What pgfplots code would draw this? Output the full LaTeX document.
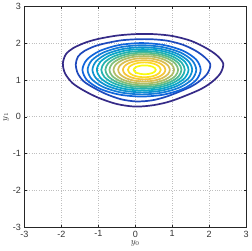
\documentclass[border=0pt]{standalone}
\usepackage{fontspec}
\setmainfont{Liberation Sans}
\usepackage{pgfplots}
\pgfplotsset{compat=1.18}
\definecolor{k1}{RGB}{53,42,135}
\definecolor{k2}{RGB}{30,73,188}
\definecolor{k3}{RGB}{16,101,219}
\definecolor{k4}{RGB}{19,123,215}
\definecolor{k5}{RGB}{14,145,208}
\definecolor{k6}{RGB}{9,165,199}
\definecolor{k7}{RGB}{34,177,176}
\definecolor{k8}{RGB}{73,185,150}
\definecolor{k9}{RGB}{128,190,122}
\definecolor{k10}{RGB}{175,189,103}
\definecolor{k11}{RGB}{216,189,83}
\definecolor{k12}{RGB}{244,197,59}
\definecolor{k13}{RGB}{252,220,36}
\definecolor{k14}{RGB}{249,251,14}
\begin{document}
\begin{tikzpicture}
\begin{axis}[
  scale only axis, width=221pt, height=220pt,
  xmin=-3, xmax=3, ymin=-3, ymax=3,
  xtick={-3,-2,-1,0,1,2,3}, ytick={-3,-2,-1,0,1,2,3},
  grid=major,
  major grid style={dotted, line width=0.8pt, color=black!25},
  axis line style={line width=1pt, color=black!85},
  tick align=inside, tick pos=both,
  major tick length=2.5pt,
  tick style={line width=0.7pt, color=black!85},
  ticklabel style={font=\fontsize{9}{10}\selectfont, color=black!80},
  /pgf/number format/assume math mode=true,
  xlabel={$y_0$}, ylabel={$y_1$},
  label style={font=\small, color=black!80},
  xlabel style={yshift=3pt},
  ylabel style={yshift=-3pt},
  every axis plot/.append style={line width=1.7pt, smooth cycle},
]
\addplot[k1] coordinates {(-1.96,1.45) (-1.88,1.70) (-1.68,1.87) (-1.35,2.02) (-1.0,2.12) (-0.5,2.21) (0.0,2.25) (0.5,2.25) (1.0,2.20) (1.5,2.07) (1.9,1.88) (2.2,1.68) (2.38,1.45) (2.30,1.18) (2.05,0.93) (1.7,0.72) (1.0,0.44) (0.5,0.32) (0.0,0.28) (-0.5,0.35) (-1.0,0.52) (-1.4,0.72) (-1.7,0.92) (-1.9,1.18)};
\addplot[k2] coordinates {(-1.61,1.43) (-1.55,1.64) (-1.38,1.79) (-1.10,1.92) (-0.81,2.00) (-0.39,2.08) (0.03,2.11) (0.45,2.11) (0.87,2.07) (1.29,1.96) (1.63,1.80) (1.88,1.62) (2.03,1.43) (1.96,1.19) (1.75,0.98) (1.46,0.80) (0.87,0.56) (0.45,0.45) (0.03,0.42) (-0.39,0.48) (-0.81,0.63) (-1.14,0.80) (-1.40,0.97) (-1.56,1.19)};
\addplot[k3] coordinates {(1.77,1.28) (1.648,1.558) (1.301,1.794) (0.783,1.952) (0.17,2.007) (-0.443,1.952) (-0.961,1.794) (-1.308,1.558) (-1.43,1.28) (-1.308,1.002) (-0.961,0.766) (-0.443,0.608) (0.17,0.553) (0.783,0.608) (1.301,0.766) (1.648,1.002)};
\addplot[k4] coordinates {(1.65,1.28) (1.538,1.536) (1.219,1.752) (0.743,1.897) (0.18,1.948) (-0.383,1.897) (-0.859,1.752) (-1.178,1.536) (-1.29,1.28) (-1.178,1.024) (-0.859,0.808) (-0.383,0.663) (0.18,0.612) (0.743,0.663) (1.219,0.808) (1.538,1.024)};
\addplot[k5] coordinates {(1.54,1.28) (1.437,1.515) (1.144,1.714) (0.707,1.847) (0.19,1.894) (-0.327,1.847) (-0.764,1.714) (-1.057,1.515) (-1.16,1.28) (-1.057,1.045) (-0.764,0.846) (-0.327,0.713) (0.19,0.666) (0.707,0.713) (1.144,0.846) (1.437,1.045)};
\addplot[k6] coordinates {(1.44,1.28) (1.346,1.496) (1.077,1.679) (0.675,1.801) (0.2,1.844) (-0.275,1.801) (-0.677,1.679) (-0.946,1.496) (-1.04,1.28) (-0.946,1.064) (-0.677,0.881) (-0.275,0.759) (0.2,0.716) (0.675,0.759) (1.077,0.881) (1.346,1.064)};
\addplot[k7] coordinates {(1.34,1.28) (1.254,1.477) (1.009,1.643) (0.643,1.755) (0.21,1.794) (-0.223,1.755) (-0.589,1.643) (-0.834,1.477) (-0.92,1.28) (-0.834,1.083) (-0.589,0.917) (-0.223,0.805) (0.21,0.766) (0.643,0.805) (1.009,0.917) (1.254,1.083)};
\addplot[k8] coordinates {(1.25,1.28) (1.172,1.459) (0.948,1.611) (0.614,1.712) (0.22,1.748) (-0.174,1.712) (-0.508,1.611) (-0.732,1.459) (-0.81,1.28) (-0.732,1.101) (-0.508,0.949) (-0.174,0.848) (0.22,0.812) (0.614,0.848) (0.948,0.949) (1.172,1.101)};
\addplot[k9] coordinates {(1.16,1.28) (1.089,1.442) (0.888,1.579) (0.586,1.671) (0.23,1.703) (-0.126,1.671) (-0.428,1.579) (-0.629,1.442) (-0.70,1.28) (-0.629,1.118) (-0.428,0.981) (-0.126,0.889) (0.23,0.857) (0.586,0.889) (0.888,0.981) (1.089,1.118)};
\addplot[k10] coordinates {(1.05,1.28) (0.988,1.423) (0.81,1.544) (0.544,1.625) (0.23,1.653) (-0.084,1.625) (-0.35,1.544) (-0.528,1.423) (-0.59,1.28) (-0.528,1.137) (-0.35,1.016) (-0.084,0.935) (0.23,0.907) (0.544,0.935) (0.81,1.016) (0.988,1.137)};
\addplot[k11] coordinates {(0.935,1.28) (0.882,1.402) (0.73,1.505) (0.503,1.574) (0.235,1.598) (-0.033,1.574) (-0.26,1.505) (-0.412,1.402) (-0.465,1.28) (-0.412,1.158) (-0.26,1.055) (-0.033,0.986) (0.235,0.962) (0.503,0.986) (0.73,1.055) (0.882,1.158)};
\addplot[k12] coordinates {(0.815,1.28) (0.771,1.38) (0.647,1.465) (0.46,1.521) (0.24,1.541) (0.02,1.521) (-0.167,1.465) (-0.291,1.38) (-0.335,1.28) (-0.291,1.18) (-0.167,1.095) (0.02,1.039) (0.24,1.019) (0.46,1.039) (0.647,1.095) (0.771,1.18)};
\addplot[k13] coordinates {(0.69,1.28) (0.656,1.357) (0.56,1.423) (0.415,1.467) (0.245,1.482) (0.075,1.467) (-0.07,1.423) (-0.166,1.357) (-0.20,1.28) (-0.166,1.203) (-0.07,1.137) (0.075,1.093) (0.245,1.078) (0.415,1.093) (0.56,1.137) (0.656,1.203)};
\addplot[k14] coordinates {(0.555,1.28) (0.532,1.326) (0.467,1.365) (0.37,1.391) (0.255,1.40) (0.14,1.391) (0.043,1.365) (-0.022,1.326) (-0.045,1.28) (-0.022,1.234) (0.043,1.195) (0.14,1.169) (0.255,1.16) (0.37,1.169) (0.467,1.195) (0.532,1.234)};
\end{axis}
\end{tikzpicture}
\end{document}
